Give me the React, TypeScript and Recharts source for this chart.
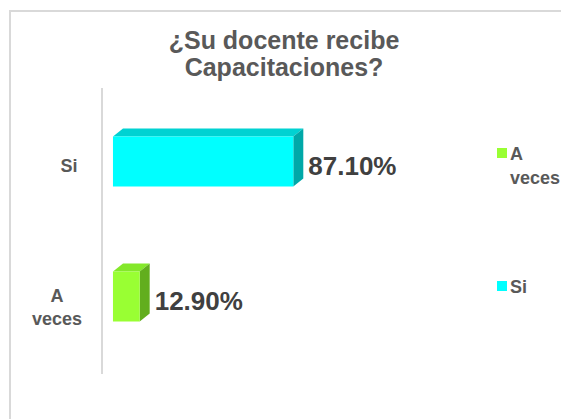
import React from "react";
import { BarChart, Bar, XAxis, YAxis, LabelList, Legend } from "recharts";

const categories = ["Si", "A veces"];
const values = [87.1, 12.9];
const valueLabels = ["87.10%", "12.90%"];
const categoryLines = [["Si"], ["A", "veces"]];
const legendNames = ["A veces", "Si"];
const legendLines = [["A", "veces"], ["Si"]];
const titleLines = ["¿Su docente recibe", "Capacitaciones?"];

const frontColors = ["#00ffff", "#99ff33"];
const topColors = ["#00d2d2", "#84e82a"];
const sideColors = ["#00a8a8", "#62ae1e"];
const legendColors = ["#99ff33", "#00ffff"];

const data = categories.map((c, i) => ({
  name: c,
  value: values[i],
  label: valueLabels[i],
  lines: categoryLines[i],
  idx: i,
}));

const FONT = "'Liberation Sans', Arial, sans-serif";
const DX = 10;
const DY = 8;

const Bar3D = (props: any) => {
  const { x, y, width, height, index } = props;
  const i = index ?? 0;
  return (
    <g>
      <polygon
        points={`${x},${y} ${x + DX},${y - DY} ${x + width + DX},${y - DY} ${x + width},${y}`}
        fill={topColors[i]}
      />
      <polygon
        points={`${x + width},${y} ${x + width + DX},${y - DY} ${x + width + DX},${y + height - DY} ${x + width},${y + height}`}
        fill={sideColors[i]}
      />
      <rect x={x} y={y} width={width} height={height} fill={frontColors[i]} />
    </g>
  );
};

const ValueLabel = (props: any) => {
  const { x, y, width, height, value } = props;
  return (
    <text
      x={x + width + DX + 5}
      y={y + height / 2 + 13}
      fill="#404040"
      fontFamily={FONT}
      fontWeight="bold"
      fontSize={26}
    >
      {value}
    </text>
  );
};

const CategoryTick = (props: any) => {
  const { y, payload, index } = props;
  const lines: string[] = categoryLines[index] ?? [payload.value];
  const cx = lines.length > 1 ? 49 : 61;
  const startY = lines.length > 1 ? y + 6 : y + 11;
  return (
    <g>
      {lines.map((l, k) => (
        <text
          key={k}
          x={cx}
          y={startY + k * 23}
          textAnchor="middle"
          fill="#595959"
          fontFamily={FONT}
          fontWeight="bold"
          fontSize={18}
        >
          {l}
        </text>
      ))}
    </g>
  );
};

const LegendContent = () => {
  const tops = [0, 133];
  return (
    <div style={{ position: "relative", width: 70, height: 200 }}>
      {legendNames.map((n, i) => (
        <div key={n} style={{ position: "absolute", left: 0, top: tops[i] }}>
          <div
            style={{
              position: "absolute",
              left: 0,
              top: 6,
              width: 10,
              height: 10,
              background: legendColors[i],
            }}
          />
          <div
            style={{
              position: "absolute",
              left: 13,
              top: 0,
              fontFamily: FONT,
              fontWeight: "bold",
              fontSize: 18,
              lineHeight: "24px",
              color: "#595959",
              whiteSpace: "nowrap",
            }}
          >
            {legendLines[i].map((l, k) => (
              <div key={k}>{l}</div>
            ))}
          </div>
        </div>
      ))}
    </div>
  );
};

export default function App() {
  return (
    <div
      style={{
        position: "fixed",
        left: 8,
        top: 8,
        width: 553,
        height: 411,
        overflow: "hidden",
        background: "#fff",
      }}
    >
      <div
        style={{
          position: "absolute",
          left: 1,
          top: 2,
          width: 700,
          height: 700,
          borderTop: "2px solid #d9d9d9",
          borderLeft: "2px solid #d9d9d9",
        }}
      />
      <div
        style={{
          position: "absolute",
          left: 0,
          top: 19,
          width: 552,
          textAlign: "center",
          fontFamily: FONT,
          fontWeight: "bold",
          fontSize: 25,
          lineHeight: "27px",
          color: "#595959",
        }}
      >
        {titleLines.map((t, i) => (
          <div key={i}>{t}</div>
        ))}
      </div>
      <div style={{ position: "absolute", left: 0, top: 0 }}>
        <BarChart
          width={553}
          height={411}
          data={data}
          layout="vertical"
          margin={{ top: 80, bottom: 45, left: 14, right: 241 }}
        >
          <XAxis type="number" domain={[-5.3, 100]} hide />
          <YAxis
            type="category"
            dataKey="name"
            width={80}
            axisLine={{ stroke: "#d9d9d9", strokeWidth: 2 }}
            tickLine={false}
            tick={<CategoryTick />}
            padding={{ top: 5.5, bottom: 10.5 }}
            interval={0}
          />
          <Legend
            layout="vertical"
            align="center"
            verticalAlign="middle"
            content={<LegendContent />}
            wrapperStyle={{ position: "absolute", left: 489, top: 134, width: 70, height: 200 }}
          />
          <Bar dataKey="value" barSize={50} shape={<Bar3D />} isAnimationActive={false}>
            <LabelList dataKey="label" content={<ValueLabel />} />
          </Bar>
        </BarChart>
      </div>
    </div>
  );
}
